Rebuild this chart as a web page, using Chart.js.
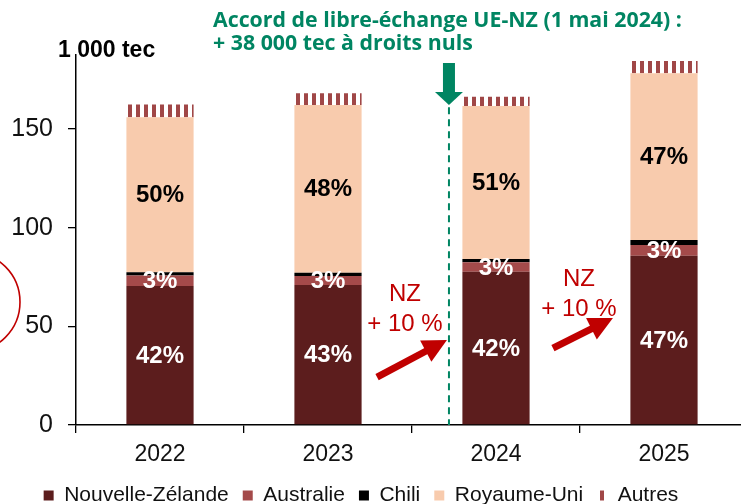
<!DOCTYPE html>
<html lang="fr">
<head>
<meta charset="utf-8">
<title>Importations de viande ovine par origine</title>
<script src="https://cdn.jsdelivr.net/npm/chart.js@4.4.1/dist/chart.umd.min.js"></script>
<style>
  html, body { margin: 0; padding: 0; background: #fff; overflow: hidden; }
  canvas { display: block; }
</style>
</head>
<body>
<canvas id="chart" width="760" height="516"></canvas>
<script>
// Années
const years = ['2022', '2023', '2024', '2025'];

// Volumes en milliers de tec
const nouvelleZelande = [70.4, 71.0, 77.7, 85.8];
const australie = [5.3, 4.5, 4.8, 5.4];
const chili = [1.7, 1.7, 1.6, 2.6];
const royaumeUni = [78.5, 85.0, 77.6, 84.5];
const autres = [6.5, 5.9, 4.7, 6.2];

// Parts affichées dans les barres
const partsNZ = ['42%', '43%', '42%', '47%'];
const partsAustralie = ['3%', '3%', '3%', '3%'];
const partsRU = ['50%', '48%', '51%', '47%'];

const yTicks = [0, 50, 100, 150];

const FONT = '"Liberation Sans", Arial, Helvetica, sans-serif';
const GREEN = '#008562';
const RED = '#c00000';

// Motif rayé vertical pour "Autres"
function stripes(color) {
  const c = document.createElement('canvas');
  c.width = 8;
  c.height = 8;
  const g = c.getContext('2d');
  g.fillStyle = color;
  g.fillRect(0, 0, 4, 8);
  return g.createPattern(c, 'repeat');
}

// Flèche pleine (tige + pointe)
function arrow(ctx, x0, y0, x1, y1, shaft, headLen, headWidth, color) {
  const a = Math.atan2(y1 - y0, x1 - x0);
  const len = Math.hypot(x1 - x0, y1 - y0);
  ctx.save();
  ctx.translate(x0, y0);
  ctx.rotate(a);
  ctx.fillStyle = color;
  ctx.fillRect(0, -shaft / 2, len - headLen + 1, shaft);
  ctx.beginPath();
  ctx.moveTo(len, 0);
  ctx.lineTo(len - headLen, -headWidth / 2);
  ctx.lineTo(len - headLen, headWidth / 2);
  ctx.closePath();
  ctx.fill();
  ctx.restore();
}

// Étiquettes de pourcentage au centre des segments
const barLabels = {
  id: 'barLabels',
  afterDatasetsDraw(chart) {
    const ctx = chart.ctx;
    chart.data.datasets.forEach((ds, i) => {
      if (!ds.parts) return;
      const meta = chart.getDatasetMeta(i);
      ctx.save();
      ctx.font = 'bold 24px ' + FONT;
      ctx.fillStyle = ds.partColor;
      ctx.textAlign = 'center';
      ctx.textBaseline = 'middle';
      meta.data.forEach((bar, j) => {
        ctx.fillText(ds.parts[j], bar.x, (bar.y + bar.base) / 2 + 1);
      });
      ctx.restore();
    });
  }
};

// La légende est centrée sur la fenêtre visible, pas sur tout le canevas
const legendShift = {
  id: 'legendShift',
  afterLayout(chart) {
    chart.legend.right -= 26;
    chart.legend.width -= 26;
  }
};

// Titre, unité, accord UE-NZ et flèches "NZ + 10 %"
const annotations = {
  id: 'annotations',
  afterDraw(chart) {
    const { ctx, chartArea, scales: { x, y } } = chart;
    ctx.save();

    // unité
    ctx.fillStyle = '#000';
    ctx.font = 'bold 23px ' + FONT;
    ctx.textBaseline = 'alphabetic';
    ctx.textAlign = 'left';
    ctx.fillText('1 000 tec', chartArea.left - 18, chartArea.top + 2);

    // texte de l'accord
    const lines = ['Accord de libre-échange UE-NZ (1 mai 2024) :', '+ 38 000 tec à droits nuls'];
    ctx.font = 'bold 20px "Open Sans", sans-serif';
    const size = 20 * 469 / ctx.measureText(lines[0]).width;
    ctx.font = 'bold ' + size.toFixed(2) + 'px "Open Sans", sans-serif';
    ctx.fillStyle = GREEN;
    ctx.fillText(lines[0], 213, 27);
    ctx.fillText(lines[1], 213, 50);

    // flèche verte + pointillés
    const xd = x.getPixelForValue(1.72);
    ctx.fillRect(xd - 6, 63, 12, 30);
    ctx.beginPath();
    ctx.moveTo(xd - 14, 92);
    ctx.lineTo(xd + 14, 92);
    ctx.lineTo(xd, 105);
    ctx.closePath();
    ctx.fill();
    ctx.strokeStyle = GREEN;
    ctx.lineWidth = 2;
    ctx.setLineDash([7, 5]);
    ctx.beginPath();
    ctx.moveTo(xd, y.getPixelForValue(161));
    ctx.lineTo(xd, chartArea.bottom);
    ctx.stroke();
    ctx.setLineDash([]);

    // NZ + 10 %
    const notes = [
      { tx: 1.458, ny: 66.0, py: 51.0, from: [1.292, 24.3], to: [1.708, 43.1] },
      { tx: 2.494, ny: 74.0, py: 58.8, from: [2.339, 39.0], to: [2.696, 54.2] }
    ];
    ctx.fillStyle = RED;
    ctx.font = '24px ' + FONT;
    ctx.textAlign = 'center';
    ctx.textBaseline = 'middle';
    notes.forEach(n => {
      const tx = x.getPixelForValue(n.tx);
      ctx.fillText('NZ', tx, y.getPixelForValue(n.ny));
      ctx.fillText('+ 10 %', tx, y.getPixelForValue(n.py));
      arrow(ctx,
        x.getPixelForValue(n.from[0]), y.getPixelForValue(n.from[1]),
        x.getPixelForValue(n.to[0]), y.getPixelForValue(n.to[1]),
        7, 24, 24, RED);
    });

    // cercle rouge coupé au bord gauche
    ctx.strokeStyle = RED;
    ctx.lineWidth = 1.6;
    ctx.beginPath();
    ctx.arc(-30, 302, 50, 0, Math.PI * 2);
    ctx.stroke();

    ctx.restore();
  }
};

const ctx = document.getElementById('chart').getContext('2d');

new Chart(ctx, {
  type: 'bar',
  data: {
    labels: years,
    datasets: [
      { label: 'Nouvelle-Zélande', data: nouvelleZelande, backgroundColor: '#5c1d1d', parts: partsNZ, partColor: '#fff' },
      { label: 'Australie', data: australie, backgroundColor: '#a44a4a', parts: partsAustralie, partColor: '#fff' },
      { label: 'Chili', data: chili, backgroundColor: '#000' },
      { label: 'Royaume-Uni', data: royaumeUni, backgroundColor: '#f8cbad', parts: partsRU, partColor: '#000' },
      { label: 'Autres', data: autres, backgroundColor: stripes('#a04747') }
    ]
  },
  options: {
    responsive: false,
    animation: false,
    datasets: {
      bar: { barPercentage: 1, categoryPercentage: 0.4, borderWidth: 0 }
    },
    layout: { padding: { top: 55, right: 12, left: 0, bottom: 0 } },
    scales: {
      x: {
        stacked: true,
        afterFit: s => { s.height = 46; },
        grid: { drawOnChartArea: false, offset: true, tickLength: 8, color: '#000', lineWidth: 1.3 },
        border: { color: '#000', width: 1.5 },
        ticks: { color: '#111', padding: 8, font: { size: 23, family: FONT } }
      },
      y: {
        stacked: true,
        min: 0,
        max: 187.5,
        afterFit: s => { s.width = 76; },
        afterBuildTicks: s => { s.ticks = yTicks.map(v => ({ value: v })); },
        grid: { drawOnChartArea: false, tickLength: 8, color: '#000', lineWidth: 1.3 },
        border: { color: '#000', width: 1.5 },
        ticks: { color: '#111', padding: 15, font: { size: 25, family: FONT } }
      }
    },
    plugins: {
      tooltip: { enabled: false },
      legend: {
        position: 'bottom',
        labels: {
          boxWidth: 10,
          boxHeight: 10,
          padding: 14,
          color: '#111',
          font: { size: 21, family: FONT }
        }
      }
    }
  },
  plugins: [barLabels, legendShift, annotations]
});
</script>
</body>
</html>
